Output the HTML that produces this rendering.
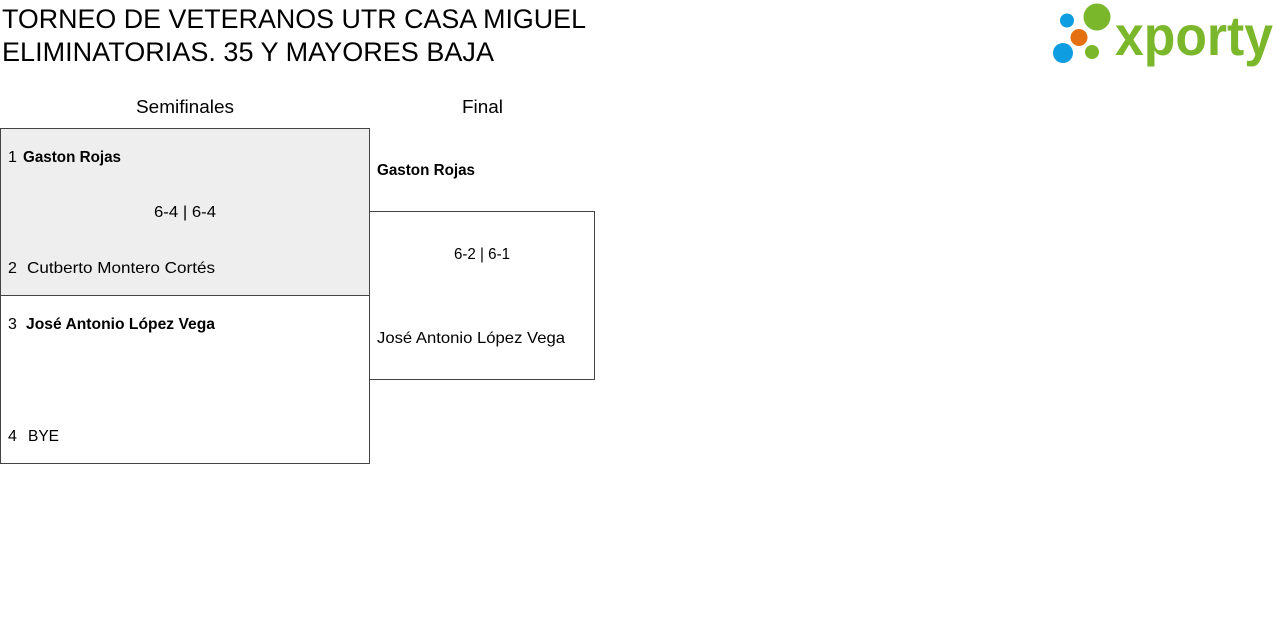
<!DOCTYPE html>
<html><head><meta charset="utf-8"><style>
html,body{margin:0;padding:0;background:#fff;width:1280px;height:628px;overflow:hidden}
svg{display:block}
text{font-family:"Liberation Sans",sans-serif;fill:#000}
</style></head><body>
<svg width="1280" height="628" viewBox="0 0 1280 628" xmlns="http://www.w3.org/2000/svg">
<text x="2" y="28" font-size="27" textLength="584" lengthAdjust="spacingAndGlyphs">TORNEO DE VETERANOS UTR CASA MIGUEL</text>
<text x="2" y="61" font-size="27" textLength="492" lengthAdjust="spacingAndGlyphs">ELIMINATORIAS. 35 Y MAYORES BAJA</text>

<circle cx="1067" cy="20.5" r="7" fill="#0d9de0"/>
<circle cx="1097" cy="17" r="13.5" fill="#7ab72b"/>
<circle cx="1079" cy="37.5" r="8.5" fill="#e5700f"/>
<circle cx="1063" cy="53" r="10" fill="#0d9de0"/>
<circle cx="1092" cy="52" r="7" fill="#7ab72b"/>
<text x="1115" y="55" font-size="60" font-weight="bold" style="fill:#7ab72b" textLength="158" lengthAdjust="spacingAndGlyphs" transform="translate(0,55) scale(1,0.92) translate(0,-55)">xporty</text>

<text x="136" y="113" font-size="18" textLength="98" lengthAdjust="spacingAndGlyphs">Semifinales</text>
<text x="462" y="113" font-size="18" textLength="41" lengthAdjust="spacingAndGlyphs">Final</text>

<rect x="0.5" y="128.5" width="369" height="167" fill="#eeeeee" stroke="#444" stroke-width="1"/>
<rect x="0.5" y="295.5" width="369" height="168" fill="#fff" stroke="#444" stroke-width="1"/>
<rect x="369.5" y="211.5" width="225" height="168" fill="#fff" stroke="#444" stroke-width="1"/>

<text x="8" y="162" font-size="16">1</text>
<text x="23" y="162" font-size="16" font-weight="bold" textLength="98" lengthAdjust="spacingAndGlyphs">Gaston Rojas</text>
<text x="154" y="217" font-size="16" textLength="62" lengthAdjust="spacingAndGlyphs">6-4 | 6-4</text>
<text x="8" y="273" font-size="16">2</text>
<text x="27" y="273" font-size="16" textLength="188" lengthAdjust="spacingAndGlyphs">Cutberto Montero Cortés</text>

<text x="8" y="329" font-size="16">3</text>
<text x="26" y="329" font-size="16" font-weight="bold" textLength="189" lengthAdjust="spacingAndGlyphs">José Antonio López Vega</text>
<text x="8" y="441" font-size="16">4</text>
<text x="28" y="441" font-size="16" textLength="31" lengthAdjust="spacingAndGlyphs">BYE</text>

<text x="377" y="175" font-size="16" font-weight="bold" textLength="98" lengthAdjust="spacingAndGlyphs">Gaston Rojas</text>
<text x="454" y="259" font-size="16" textLength="56" lengthAdjust="spacingAndGlyphs">6-2 | 6-1</text>
<text x="377" y="343" font-size="16" textLength="188" lengthAdjust="spacingAndGlyphs">José Antonio López Vega</text>
</svg>
</body></html>
